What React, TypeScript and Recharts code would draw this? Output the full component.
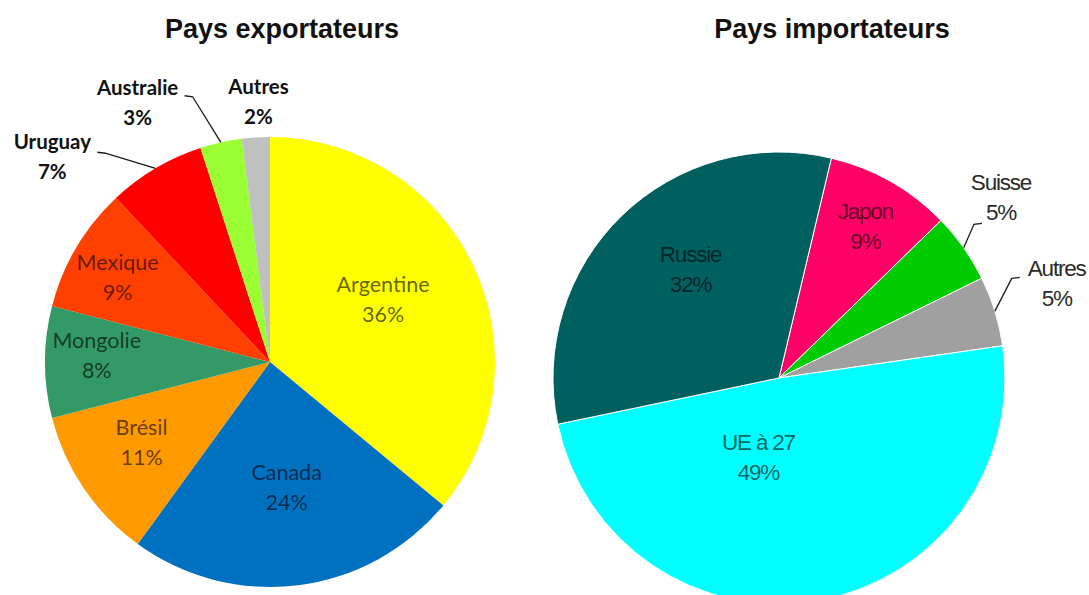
import React from "react";
import { PieChart, Pie, Cell } from "recharts";

// Exporting countries, clockwise from 12 o'clock
const EXPORT_COUNTRIES = ["Argentine", "Canada", "Brésil", "Mongolie", "Mexique", "Uruguay", "Australie", "Autres"];
const EXPORT_SHARES = [36, 24, 11, 8, 9, 7, 3, 2];
const EXPORT_COLORS = ["#ffff00", "#0070c0", "#ff9900", "#339966", "#ff4000", "#ff0000", "#99ff33", "#c0c0c0"];

// Importing countries, clockwise from the Russie/Japon edge
const IMPORT_COUNTRIES = ["Japon", "Suisse", "Autres", "UE à 27", "Russie"];
const IMPORT_SHARES = [9, 5, 5, 49, 32];
const IMPORT_COLORS = ["#ff0066", "#00cc00", "#a0a0a0", "#00ffff", "#006060"];

const exportData = EXPORT_COUNTRIES.map((name, i) => ({ name, value: EXPORT_SHARES[i] }));
const importData = IMPORT_COUNTRIES.map((name, i) => ({ name, value: IMPORT_SHARES[i] }));

// label placement: r = fraction of the radius, turn = clockwise nudge (deg),
// tail = where the leader line meets the label, relative to its centre
type Place = { r: number; turn?: number; tail?: [number, number]; outside?: boolean };

const EXPORT_PLACES: Record<string, Place> = {
  Argentine: { r: 0.56, turn: -1 },
  Canada: { r: 0.59 },
  "Brésil": { r: 0.69 },
  Mongolie: { r: 0.77 },
  Mexique: { r: 0.76, turn: -3.6 },
  Uruguay: { r: 1.31, turn: -17, tail: [45, -4], outside: true },
  Australie: { r: 1.27, turn: -15, tail: [47, -6], outside: true },
  Autres: { r: 1.13, turn: 1, outside: true },
};

const IMPORT_PLACES: Record<string, Place> = {
  Japon: { r: 0.75, turn: 1 },
  Suisse: { r: 1.25, turn: -3, tail: [-19, 26], outside: true },
  Autres: { r: 1.29, turn: -0.5, tail: [-37, -6], outside: true },
  "UE à 27": { r: 0.39, turn: 23.5 },
  Russie: { r: 0.6, turn: 3.5 },
};

const RADIAN = Math.PI / 180;

interface LabelStyle {
  fontFamily: string;
  fontSize: number;
  letterSpacing?: number;
  lineGap: number;
  lift: number;
  inside: React.SVGProps<SVGTextElement>;
  outside: React.SVGProps<SVGTextElement>;
}

function makeLabel(places: Record<string, Place>, st: LabelStyle) {
  return (props: any) => {
    const { cx, cy, midAngle, outerRadius, value } = props;
    const name: string = props.payload?.name ?? props.name;
    const p = places[name];
    if (!p) return null;
    const a = (midAngle - (p.turn ?? 0)) * RADIAN;
    const x = cx + outerRadius * p.r * Math.cos(a);
    const y = cy - outerRadius * p.r * Math.sin(a) - st.lift;
    const textProps = p.outside ? st.outside : st.inside;
    let leader = null;
    if (p.tail) {
      const m = midAngle * RADIAN;
      const ex = cx + outerRadius * Math.cos(m);
      const ey = cy - outerRadius * Math.sin(m);
      const tx = x + p.tail[0];
      const ty = y + p.tail[1];
      const bx = tx + (p.tail[0] > 0 ? 8 : -8);
      leader = (
        <polyline
          points={`${tx},${ty} ${bx},${ty + 1} ${ex},${ey}`}
          fill="none"
          stroke="#1a1a1a"
          strokeWidth={1.3}
        />
      );
    }
    return (
      <g key={`lbl-${name}`}>
        {leader}
        <text
          x={x}
          y={y}
          textAnchor="middle"
          fontFamily={st.fontFamily}
          fontSize={st.fontSize}
          letterSpacing={st.letterSpacing}
          {...textProps}
        >
          <tspan x={x} y={y - st.lineGap / 2} dominantBaseline="central">{name}</tspan>
          <tspan x={x} y={y + st.lineGap / 2} dominantBaseline="central">{`${value}%`}</tspan>
        </text>
      </g>
    );
  };
}

const exportLabel = makeLabel(EXPORT_PLACES, {
  fontFamily: "Lato, 'Open Sans', sans-serif",
  fontSize: 21.5,
  lineGap: 30,
  lift: 7,
  inside: { fill: "#000", fillOpacity: 0.62 },
  outside: { fill: "#111", fontWeight: 700, fontSize: 20.5 },
});

const importLabel = makeLabel(IMPORT_PLACES, {
  fontFamily: "'Liberation Sans', Arial, sans-serif",
  fontSize: 22.5,
  letterSpacing: -1.2,
  lineGap: 30,
  lift: 6,
  inside: { fill: "#000", fillOpacity: 0.62 },
  outside: { fill: "#2a2a2a" },
});

const titleStyle: React.CSSProperties = {
  position: "absolute",
  top: 13,
  width: 400,
  textAlign: "center",
  fontFamily: "'Liberation Sans', Arial, sans-serif",
  fontWeight: 700,
  fontSize: 27,
  color: "#111",
  lineHeight: "32px",
};

export default function App() {
  return (
    <div style={{ position: "absolute", left: 0, top: 0, width: 1089, height: 595, background: "#fff", overflow: "hidden" }}>
      <div style={{ ...titleStyle, left: 282 - 200 }}>Pays exportateurs</div>
      <div style={{ ...titleStyle, left: 832 - 200 }}>Pays importateurs</div>
      <PieChart width={1089} height={595} style={{ position: "absolute", left: 0, top: 0 }}>
        <Pie
          data={exportData}
          dataKey="value"
          nameKey="name"
          cx={265}
          cy={357}
          outerRadius={225}
          startAngle={90}
          endAngle={-270}
          stroke="none"
          label={exportLabel}
          labelLine={false}
          isAnimationActive={false}
        >
          {exportData.map((d, i) => (
            <Cell key={d.name} fill={EXPORT_COLORS[i]} />
          ))}
        </Pie>
        <Pie
          data={importData}
          dataKey="value"
          nameKey="name"
          cx={774}
          cy={373}
          outerRadius={226}
          startAngle={76.6}
          endAngle={-283.4}
          stroke="#ffffff"
          strokeWidth={1}
          label={importLabel}
          labelLine={false}
          isAnimationActive={false}
        >
          {importData.map((d, i) => (
            <Cell key={d.name} fill={IMPORT_COLORS[i]} />
          ))}
        </Pie>
      </PieChart>
    </div>
  );
}
